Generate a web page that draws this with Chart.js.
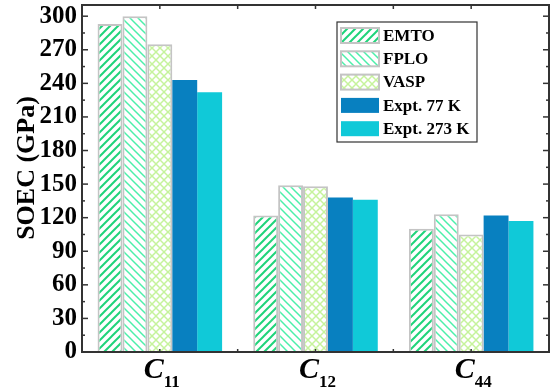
<!DOCTYPE html>
<html lang="en">
<head>
  <meta charset="UTF-8">
  <title>SOEC chart</title>
  <script src="https://cdn.jsdelivr.net/npm/chart.js"></script>
  <style>
    html, body { margin: 0; padding: 0; background: #fff; }
    #wrap { position: relative; width: 550px; height: 390px; }
  </style>
</head>
<body>
  <div id="wrap"><canvas id="soecChart"></canvas></div>

  <script>
    // Chart data
    const categories = ['C11', 'C12', 'C44'];
    const seriesNames = ['EMTO', 'FPLO', 'VASP', 'Expt. 77 K', 'Expt. 273 K'];
    const emto = [293, 122, 110];
    const fplo = [300, 149, 123];
    const vasp = [275, 148, 105];
    const expt77 = [243, 138, 122];
    const expt273 = [232, 136, 117];
    const yTicks = [0, 30, 60, 90, 120, 150, 180, 210, 240, 270, 300];
    const yTitle = 'SOEC (GPa)';

    const serif = '"Liberation Serif", "Times New Roman", serif';
    const frameColor = '#333';

    // hatch patterns for the calculated series
    function makePattern(color, kind, lw) {
      const c = document.createElement('canvas');
      c.width = 8; c.height = 8;
      const g = c.getContext('2d');
      g.fillStyle = '#fff';
      g.fillRect(0, 0, 8, 8);
      g.strokeStyle = color;
      g.lineWidth = lw;
      const seg = (x1, y1, x2, y2) => { g.beginPath(); g.moveTo(x1, y1); g.lineTo(x2, y2); g.stroke(); };
      if (kind === '/' || kind === 'x') {
        seg(-1, 9, 9, -1); seg(-1, 1, 1, -1); seg(7, 9, 9, 7);
      }
      if (kind === '\\' || kind === 'x') {
        seg(-1, -1, 9, 9); seg(-1, 7, 1, 9); seg(7, -1, 9, 1);
      }
      return g.createPattern(c, 'repeat');
    }

    const ctx = document.getElementById('soecChart').getContext('2d');

    const fills = [
      makePattern('#1fd47a', '/', 2),
      makePattern('#4cefaa', '\\', 1.5),
      makePattern('#c6f39c', 'x', 1.5),
      '#0880c0',
      '#10c9d8'
    ];
    const borders = ['#c4c4c4', '#c4c4c4', '#c4c4c4', '#0880c0', '#10c9d8'];
    const values = [emto, fplo, vasp, expt77, expt273];

    // frame, inward ticks, axis title, subscripted category labels and legend
    const decorPlugin = {
      id: 'decor',
      afterDraw(chart) {
        const c = chart.ctx;
        const a = chart.chartArea;
        const ys = chart.scales.y;
        const xs = chart.scales.x;
        c.save();
        c.strokeStyle = frameColor;
        c.lineWidth = 2;
        c.strokeRect(a.left, a.top, a.right - a.left, a.bottom - a.top);

        c.lineWidth = 1.5;
        const tick = (x1, y1, x2, y2) => { c.beginPath(); c.moveTo(x1, y1); c.lineTo(x2, y2); c.stroke(); };
        yTicks.forEach(v => {
          const y = ys.getPixelForValue(v);
          tick(a.left, y, a.left + 6, y);
          tick(a.right, y, a.right - 6, y);
          const m = ys.getPixelForValue(v + 15);
          if (m > a.top) {
            tick(a.left, m, a.left + 3, m);
            tick(a.right, m, a.right - 3, m);
          }
        });
        const step = (xs.getPixelForValue(1) - xs.getPixelForValue(0));
        categories.forEach((cat, i) => {
          const x = xs.getPixelForValue(i);
          tick(x, a.top, x, a.top + 4);
          tick(x, a.bottom, x, a.bottom - 3);
          const b = x + step / 2;
          if (b < a.right - 2) {
            tick(b, a.top, b, a.top + 4);
            tick(b, a.bottom, b, a.bottom - 3);
          }
        });

        // y axis title
        c.fillStyle = '#000';
        c.save();
        c.translate(27, a.top + 163);
        c.rotate(-Math.PI / 2);
        c.font = 'bold 26px ' + serif;
        c.textAlign = 'center';
        c.textBaseline = 'middle';
        c.fillText(yTitle, 0, 0);
        c.restore();

        // category labels: C with subscript
        c.textBaseline = 'alphabetic';
        categories.forEach((cat, i) => {
          const x = xs.getPixelForValue(i);
          const main = cat.charAt(0);
          const sub = cat.slice(1);
          c.font = 'italic bold 30px ' + serif;
          const wMain = c.measureText(main).width;
          c.font = 'bold 17px ' + serif;
          const wSub = c.measureText(sub).width;
          const x0 = x - (wMain + wSub) / 2 + 2;
          c.font = 'italic bold 30px ' + serif;
          c.textAlign = 'left';
          c.fillText(main, x0, a.bottom + 26);
          c.font = 'bold 17px ' + serif;
          c.fillText(sub, x0 + wMain, a.bottom + 35);
        });

        // legend box
        const lx = a.left + 255, ly = a.top + 17, lw = 140, lh = 120;
        c.lineWidth = 1.2;
        c.strokeStyle = frameColor;
        c.strokeRect(lx, ly, lw, lh);
        c.font = 'bold 17px ' + serif;
        c.textAlign = 'left';
        c.textBaseline = 'middle';
        chart.data.datasets.forEach((ds, i) => {
          const sy = ly + 6 + i * 23.3;
          c.fillStyle = ds.backgroundColor;
          c.fillRect(lx + 4, sy, 38, 15);
          if (i < 3) {
            c.strokeStyle = '#c4c4c4';
            c.lineWidth = 2;
            c.strokeRect(lx + 4, sy, 38, 15);
          }
          c.fillStyle = '#000';
          c.fillText(ds.label, lx + 46, sy + 8.5);
        });
        c.restore();
      }
    };

    new Chart(ctx, {
      type: 'bar',
      data: {
        labels: categories,
        datasets: seriesNames.map((name, i) => ({
          label: name,
          data: values[i],
          backgroundColor: fills[i],
          borderColor: borders[i],
          borderWidth: i < 3 ? 2 : 0,
          categoryPercentage: 0.8,
          barPercentage: 1.0
        }))
      },
      options: {
        responsive: true,
        maintainAspectRatio: false,
        animation: false,
        layout: { padding: { top: 5, right: 1, left: 0, bottom: 0 } },
        plugins: {
          legend: { display: false },
          tooltip: { enabled: false }
        },
        scales: {
          x: {
            type: 'category',
            offset: true,
            grid: { display: false, drawTicks: false },
            border: { display: false },
            ticks: { display: false },
            afterFit: s => { s.height = 38; s.paddingLeft = 0; s.paddingRight = 0; }
          },
          y: {
            min: 0,
            max: 310,
            grid: { display: false, drawTicks: false },
            border: { display: false },
            afterBuildTicks: s => { s.ticks = yTicks.map(v => ({ value: v })); },
            afterFit: s => { s.width = 82; s.paddingTop = 0; s.paddingBottom = 0; },
            ticks: {
              padding: 5,
              color: '#000',
              font: { family: serif, size: 25, weight: 'bold' }
            }
          }
        }
      },
      plugins: [decorPlugin]
    });
  </script>
</body>
</html>
